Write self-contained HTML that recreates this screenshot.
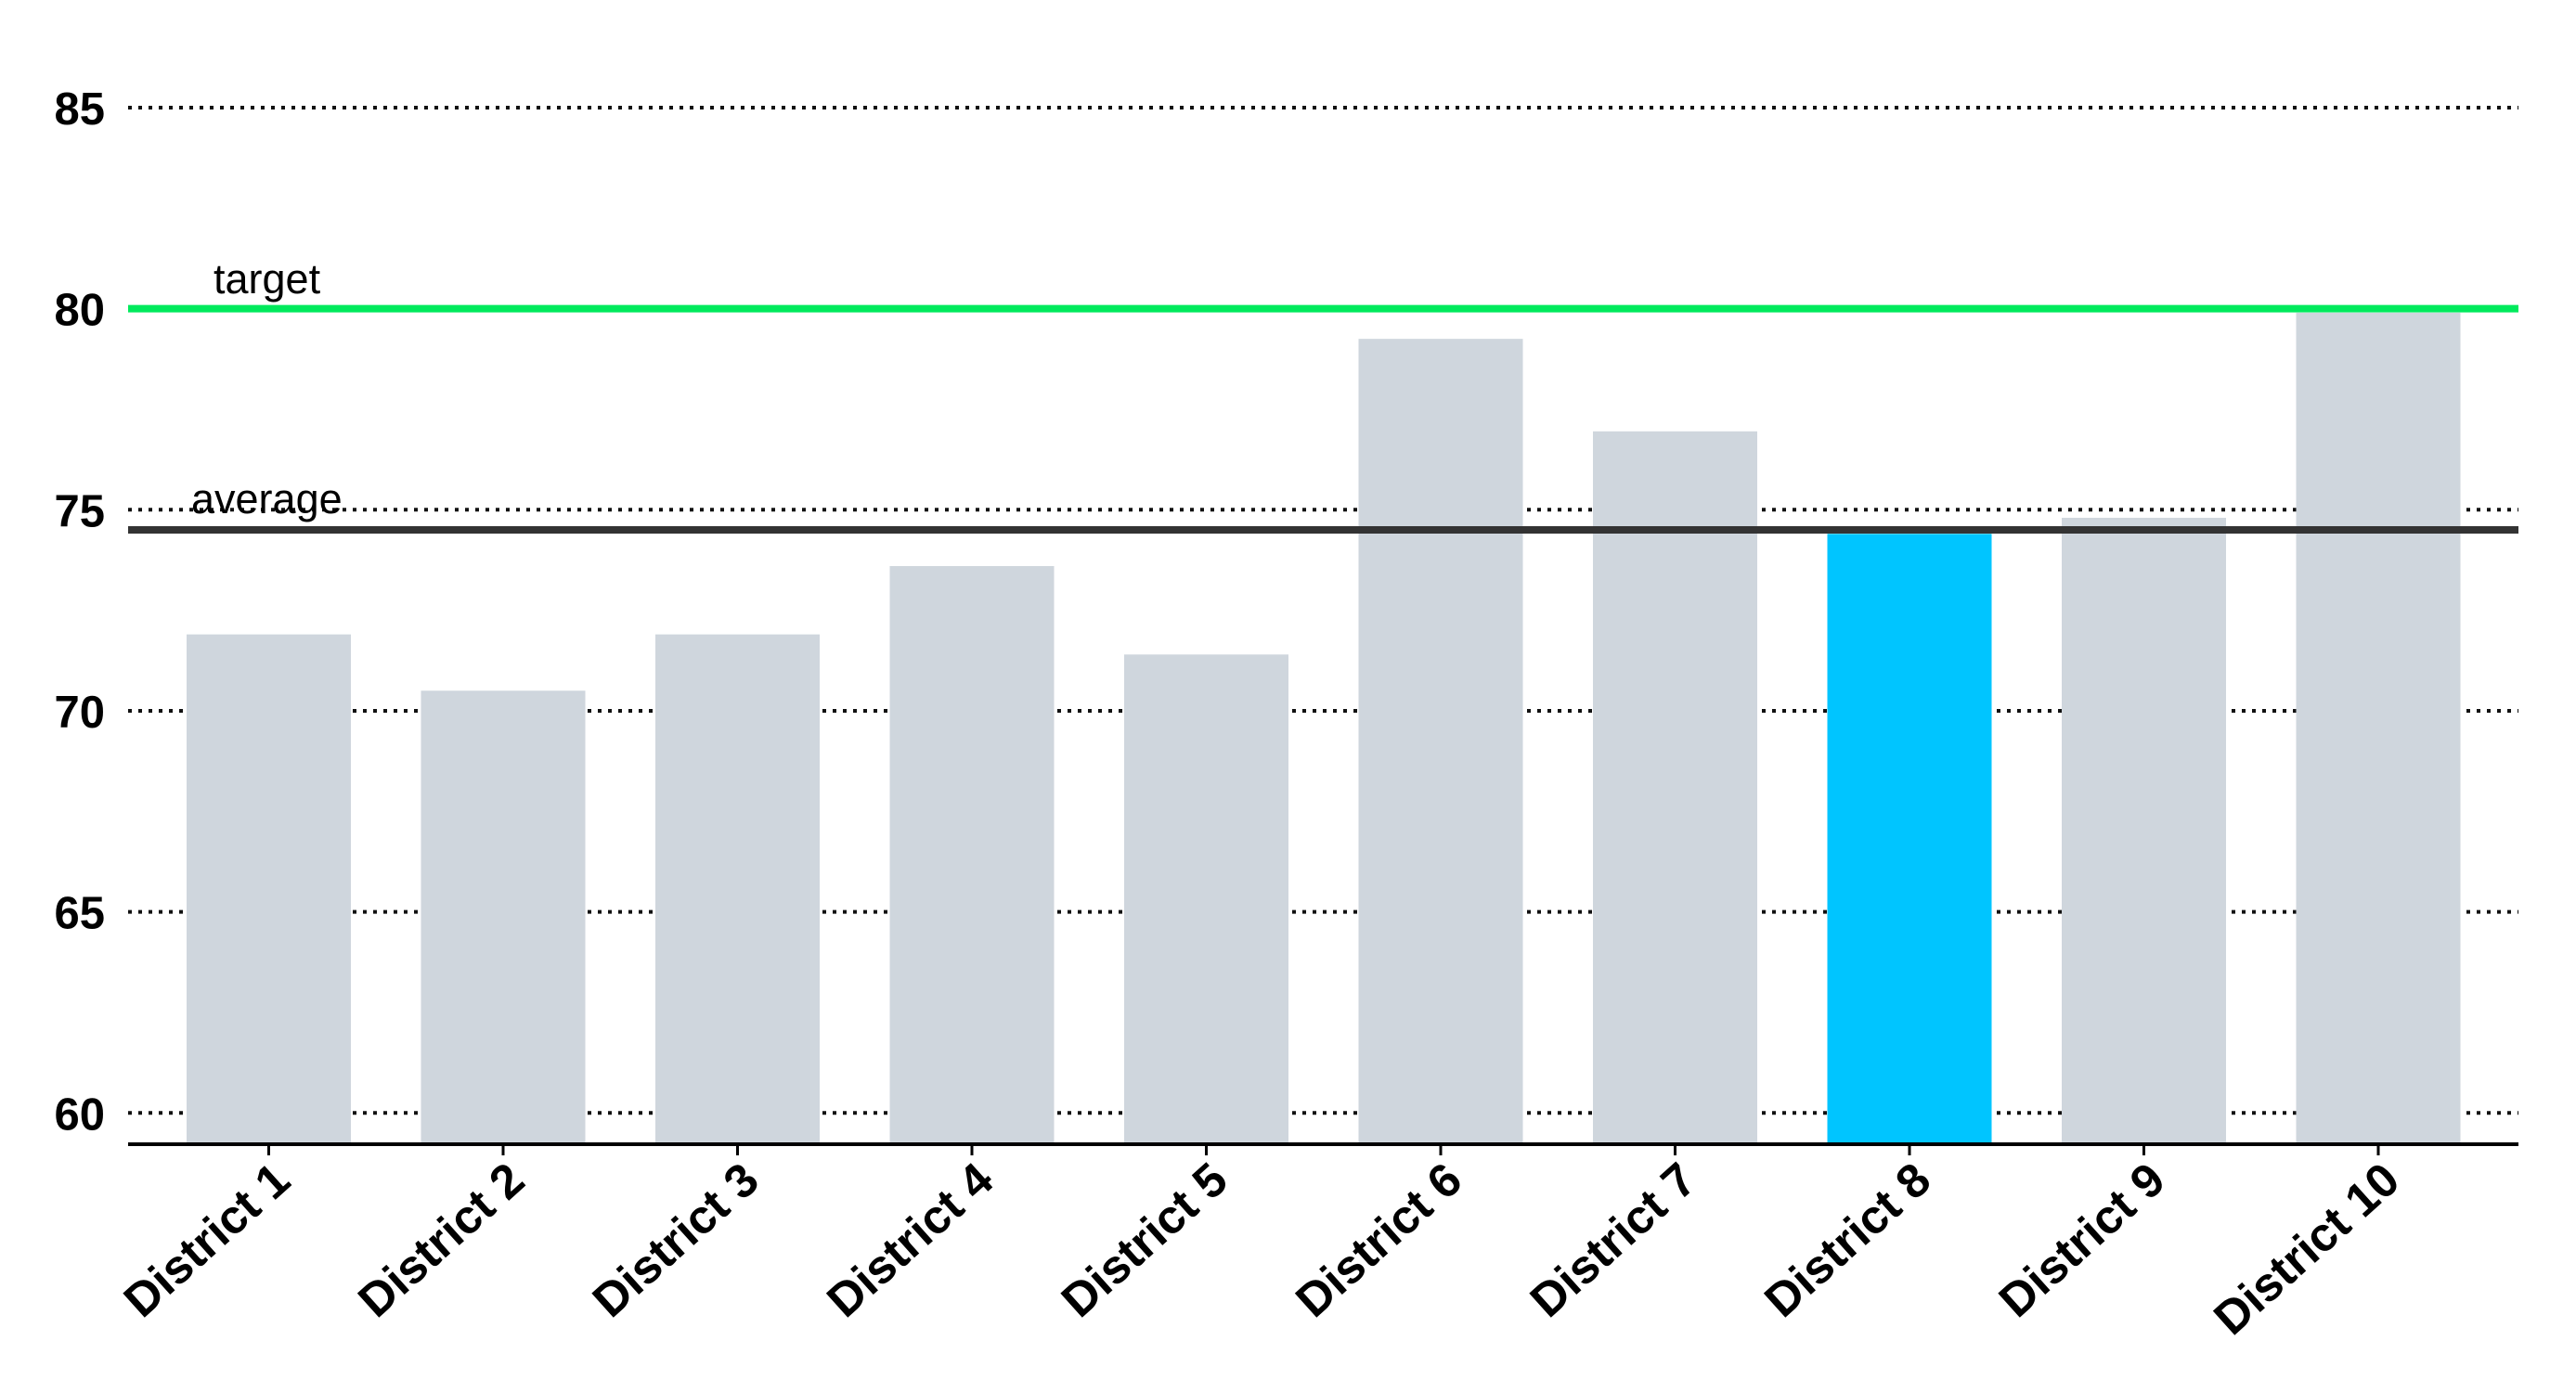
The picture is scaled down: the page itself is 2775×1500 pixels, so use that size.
<!DOCTYPE html>
<html><head><meta charset="utf-8"><style>
html,body{margin:0;padding:0;background:#fff;}
svg{display:block;font-family:"Liberation Sans",Arial,sans-serif;}
</style></head><body>
<svg id="chart" width="2775" height="1500" viewBox="0 0 2775 1500"></svg>
<script>
const categories=["District 1","District 2","District 3","District 4","District 5","District 6","District 7","District 8","District 9","District 10"];
const values=[71.9,70.5,71.9,73.6,71.4,79.25,76.95,74.4,74.8,79.9];
const highlightIndex=[7];
const yTicks=[60,65,70,75,80,85];
const targetValue=[80];
const averageValue=[74.5];

const NS="http://www.w3.org/2000/svg";
const svg=document.getElementById('chart');
const plotL=138,plotR=2713,axisY=1233;
function y(v){return 116+(85-v)*43.33;}
function x(i){return 289.5+i*252.5;}
const barW=177;
function mk(t,a){const e=document.createElementNS(NS,t);for(const k in a)e.setAttribute(k,a[k]);svg.appendChild(e);return e;}

yTicks.forEach(t=>{
  const g=mk('line',{x1:plotL,x2:plotR,y1:y(t),y2:y(t),stroke:'#111','stroke-width':4,'stroke-dasharray':'4 7'});
  
  
  const l=mk('text',{x:113,y:y(t)+18,'text-anchor':'end','font-size':49,'font-weight':'bold',fill:'#000'});
  l.textContent=t;
  
  
});

values.forEach((v,i)=>{
  const r=mk('rect',{x:x(i)-barW/2,y:y(v),width:barW,height:axisY-y(v),fill:highlightIndex.includes(i)?'#00c5ff':'#cfd6dd'});
  
  
  const tk=mk('line',{x1:x(i),x2:x(i),y1:axisY,y2:axisY+12,stroke:'#000','stroke-width':3});
  
  
  const cx=x(i)+26,cy=1276;
  const t=mk('text',{x:cx,y:cy,'text-anchor':'end','font-size':51,'font-weight':'bold',fill:'#000',transform:'rotate(-42 '+cx+' '+cy+')'});
  t.textContent=categories[i];
  
  
});

const tl=mk('line',{x1:plotL,x2:plotR,y1:y(targetValue[0]),y2:y(targetValue[0]),stroke:'#00ea5c','stroke-width':8});


const tt=mk('text',{x:230,y:316,'font-size':45,fill:'#000'});
tt.textContent='target';



const al=mk('line',{x1:plotL,x2:plotR,y1:y(averageValue[0]),y2:y(averageValue[0]),stroke:'#333','stroke-width':8});


const at=mk('text',{x:206,y:553,'font-size':45,fill:'#000'});
at.textContent='average';



const ax=mk('line',{x1:plotL,x2:plotR,y1:axisY,y2:axisY,stroke:'#000','stroke-width':4});


</script>
</body></html>
